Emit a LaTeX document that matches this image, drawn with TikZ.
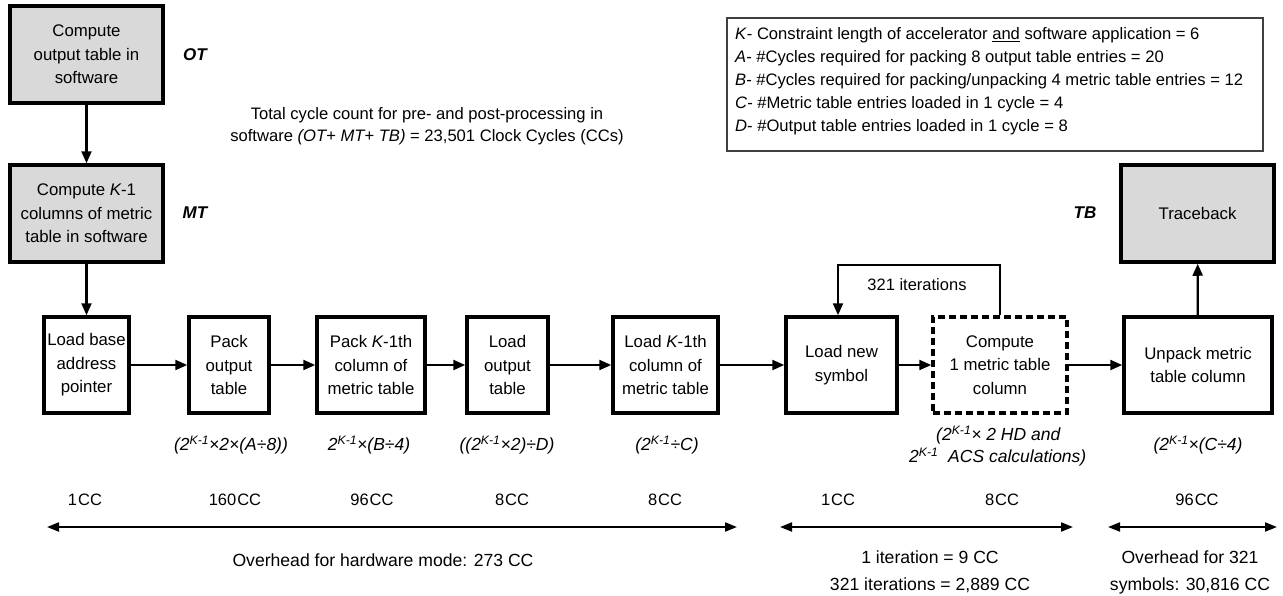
\documentclass[tikz,border=0pt]{standalone}
\usepackage{fontspec}
\setmainfont{Liberation Sans}
\usetikzlibrary{arrows.meta}
\definecolor{boxgray}{HTML}{D9D9D9}
\definecolor{legendline}{HTML}{404040}
\newcommand{\mysup}{\textsuperscript{\itshape K-1}}
\newcommand{\myK}{\textit{K}\kern-0.5pt}
\begin{document}
\begin{tikzpicture}[x=1pt,y=-1pt,
  box/.style={draw, line width=3.5pt, align=center, inner sep=0pt,
    font=\fontsize{16.8}{23.5}\selectfont},
  swbox/.style={box, fill=boxgray},
  dashbox/.style={box, dash pattern=on 7pt off 4pt},
  conn/.style={line width=2.2pt, -{Triangle[length=12pt,width=10pt]}},
  dbl/.style={line width=2pt, {Triangle[length=12pt,width=9pt]}-{Triangle[length=12pt,width=9pt]}},
  txt/.style={inner sep=0pt, align=center, font=\fontsize{16.5}{27}\selectfont},
  btxt/.style={inner sep=0pt, align=center, font=\fontsize{17.6}{27}\selectfont},
  frm/.style={inner sep=0pt, align=center, font=\fontsize{17.5}{22}\selectfont\itshape},
  cc/.style={inner sep=0pt, font=\fontsize{16.5}{20}\selectfont},
  tag/.style={inner sep=0pt, font=\fontsize{17}{20}\selectfont\bfseries\itshape},
  leg/.style={inner sep=0pt, anchor=west, font=\fontsize{16.6}{20}\selectfont}
]
\useasboundingbox (0,0) rectangle (1283,595);

% software boxes
\node[swbox, minimum width=153pt, minimum height=97pt] (ot) at (86.5,54.5)
  {Compute\\output table in\\software};
\node[swbox, minimum width=153pt, minimum height=97pt] (mt) at (86.5,213.5)
  {Compute \myK-1\\columns of metric\\table in software};
\node[swbox, minimum width=153pt, minimum height=97pt] (tb) at (1197.5,213.5)
  {Traceback};

\node[tag] (otl) at (195,55) {OT};
\node[tag] (mtl) at (195,213) {MT};
\node[tag] (tbl) at (1085,213) {TB};

% main row
\node[box, minimum width=85pt, minimum height=96pt] (lb) at (86.5,365)
  {Load base\\address\\pointer};
\node[box, minimum width=80pt, minimum height=96pt] (po) at (229,365)
  {Pack\\output\\table};
\node[box, minimum width=108pt, minimum height=96pt] (pk) at (371,365)
  {Pack \myK-1th\\column of\\metric table};
\node[box, minimum width=81pt, minimum height=96pt] (lo) at (507.5,365)
  {Load\\output\\table};
\node[box, minimum width=105pt, minimum height=96pt] (lk) at (665.5,365)
  {Load \myK-1th\\column of\\metric table};
\node[box, minimum width=111pt, minimum height=96pt] (ln) at (841.5,365)
  {Load new\\symbol};
\node[dashbox, minimum width=134pt, minimum height=96pt] (cm) at (1000,365)
  {Compute\\1 metric table\\column};
\node[box, minimum width=148pt, minimum height=96pt] (up) at (1198,365)
  {Unpack metric\\table column};

% connectors
\draw[conn] (ot) -- (mt);
\draw[conn] (mt) -- (lb);
\draw[conn] (lb) -- (po);
\draw[conn] (po) -- (pk);
\draw[conn] (pk) -- (lo);
\draw[conn] (lo) -- (lk);
\draw[conn] (lk) -- (ln);
\draw[conn] (ln) -- (cm);
\draw[conn] (cm) -- (up);
\draw[conn] (up) -- (tb);
\coordinate (lpa) at (1000,265);
\coordinate (lpb) at (838,265);
\draw[line width=2.2pt, line join=miter, -{Triangle[length=12pt,width=10pt]}]
  (cm.north -| lpa) -- (lpa) -- (lpb) -- (lpb |- ln.north);
\node[txt] (iter) at (917,285) {321 iterations};

% total cycle text
\node[txt, font=\fontsize{16.6}{22}\selectfont] (total) at (427,126)
  {Total cycle count for pre- and post-processing in\\
   software \textit{(OT+ MT+ TB)} = 23,501 Clock Cycles (CCs)};

% legend
\draw[line width=1.3pt, legendline] (727,18) rectangle (1263,151);
\node[leg] (l1) at (735,35) {\textit{K}- Constraint length of accelerator \underline{and} software application = 6};
\node[leg] (l2) at (735,58) {\textit{A}- \#Cycles required for packing 8 output table entries = 20};
\node[leg] (l3) at (735,81) {\textit{B}- \#Cycles required for packing/unpacking 4 metric table entries = 12};
\node[leg] (l4) at (735,104) {\textit{C}- \#Metric table entries loaded in 1 cycle = 4};
\node[leg] (l5) at (735,127) {\textit{D}- \#Output table entries loaded in 1 cycle = 8};

% formulas
\node[frm] (f1) at (231,445) {(2\mysup×2×(\textit{A}÷8))};
\node[frm] (f2) at (369,445) {2\mysup×(\textit{B}÷4)};
\node[frm] (f3) at (507,445) {((2\mysup×2)÷\textit{D})};
\node[frm] (f4) at (667,445) {(2\mysup÷\textit{C})};
\node[frm, anchor=west] (f5a) at (936,435) {(2\mysup× 2 HD and};
\node[frm, anchor=west] (f5b) at (909,457) {2\mysup\ \ ACS calculations)};
\node[frm] (f6) at (1198,445) {(2\mysup×(\textit{C}÷4)};

% cycle counts
\node[cc] (c1) at (85,500) {1\kern1pt CC};
\node[cc] (c2) at (235,500) {160\kern1pt CC};
\node[cc] (c3) at (372,500) {96\kern1pt CC};
\node[cc] (c4) at (512,500) {8\kern1pt CC};
\node[cc] (c5) at (665,500) {8\kern1pt CC};
\node[cc] (c6) at (838,500) {1\kern1pt CC};
\node[cc] (c7) at (1002,500) {8\kern1pt CC};
\node[cc] (c8) at (1197,500) {96\kern1pt CC};

% spans
\coordinate (s1a) at (47,527);
\coordinate (s1b) at (737,527);
\coordinate (s2a) at (780,527);
\coordinate (s2b) at (1073,527);
\coordinate (s3a) at (1108,527);
\coordinate (s3b) at (1277,527);
\draw[dbl] (s1a) -- (s1b);
\draw[dbl] (s2a) -- (s2b);
\draw[dbl] (s3a) -- (s3b);

\node[btxt] (o1) at (383,560) {Overhead for hardware mode: 273 CC};
\node[btxt, anchor=north] (o2) at (930,551) {1 iteration = 9 CC\\321 iterations = 2,889 CC};
\node[btxt, anchor=north] (o3) at (1190,551) {Overhead for 321\\symbols: 30,816 CC};
\end{tikzpicture}
\end{document}
